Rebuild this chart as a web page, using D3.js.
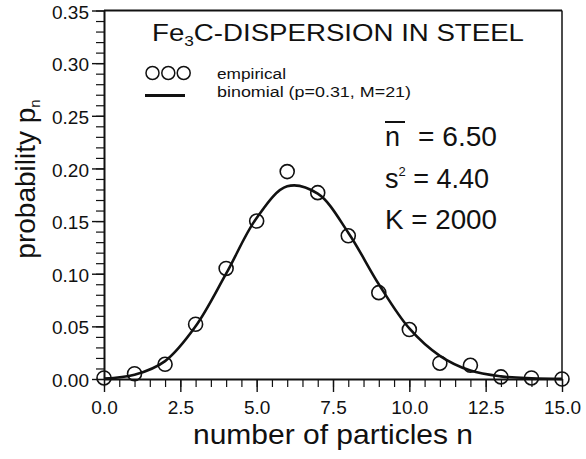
<!DOCTYPE html>
<html lang="en">
<head>
<meta charset="UTF-8">
<title>Fe3C dispersion</title>
<style>
  body { margin: 0; background: #fff; }
  svg { font-family: "Liberation Sans", Arial, sans-serif; }
  .axis path, .axis line { stroke: #111; }
  .axis text { fill: #111; }
</style>
</head>
<body>
<script src="https://d3js.org/d3.v7.min.js"></script>
<div id="chart"></div>
<script>
  // data
  var particles = [0, 1, 2, 3, 4, 5, 6, 7, 8, 9, 10, 11, 12, 13, 14, 15]
  var empirical = [0.001, 0.005, 0.014, 0.052, 0.105, 0.150, 0.197, 0.177, 0.136, 0.082, 0.047, 0.015, 0.013, 0.002, 0.001, 0.000]
  var binomialFit = [0.0004, 0.004, 0.017, 0.050, 0.100, 0.153, 0.183, 0.176, 0.139, 0.090, 0.048, 0.022, 0.008, 0.0025, 0.0007, 0.0001]
  var xTicks = [0, 2.5, 5, 7.5, 10, 12.5, 15]
  var yTicks = [0, 0.05, 0.10, 0.15, 0.20, 0.25, 0.30, 0.35]
  var xMinor = d3.range(0, 15.01, 0.5)
  var yMinor = d3.range(0, 0.3501, 0.01)

  var width = 586, height = 459
  var svg = d3.select("#chart").append("svg")
    .attr("width", width)
    .attr("height", height)

  var x = d3.scaleLinear().domain([0, 15]).range([104, 562])
  var y = d3.scaleLinear().domain([0, 0.35]).range([379, 10.5])

  // minor ticks first
  svg.append("g").attr("class", "axis")
    .attr("transform", "translate(0," + y(0) + ")")
    .call(d3.axisBottom(x).tickValues(xMinor).tickSize(8).tickSizeOuter(0).tickFormat(""))
    .call(g => g.select(".domain").remove())
    .selectAll("line").attr("stroke-width", 1.2)
  svg.append("g").attr("class", "axis")
    .attr("transform", "translate(" + x(0) + ",0)")
    .call(d3.axisLeft(y).tickValues(yMinor).tickSize(8).tickSizeOuter(0).tickFormat(""))
    .call(g => g.select(".domain").remove())
    .selectAll("line").attr("stroke-width", 1.2)

  var xAxis = svg.append("g").attr("class", "axis")
    .attr("transform", "translate(0," + y(0) + ")")
    .call(d3.axisBottom(x).tickValues(xTicks).tickSize(13).tickSizeOuter(0).tickPadding(9).tickFormat(d3.format(".1f")))
  xAxis.select(".domain").attr("stroke-width", 2)
  xAxis.selectAll("line").attr("stroke-width", 1.4)
  xAxis.selectAll("text").attr("font-size", 19).attr("font-family", "Liberation Sans")

  var yAxis = svg.append("g").attr("class", "axis")
    .attr("transform", "translate(" + x(0) + ",0)")
    .call(d3.axisLeft(y).tickValues(yTicks).tickSize(12).tickSizeOuter(0).tickPadding(3).tickFormat(d3.format(".2f")))
  yAxis.select(".domain").attr("stroke-width", 2)
  yAxis.selectAll("line").attr("stroke-width", 1.4)
  yAxis.selectAll("text").attr("font-size", 19).attr("font-family", "Liberation Sans").attr("dy", "0.4em")

  // frame top and right
  svg.append("line")
    .attr("x1", x(0)).attr("x2", x(15)).attr("y1", y(0.35)).attr("y2", y(0.35))
    .attr("stroke", "#111").attr("stroke-width", 2)
  svg.append("line")
    .attr("x1", x(15)).attr("x2", x(15)).attr("y1", y(0.35)).attr("y2", y(0))
    .attr("stroke", "#111").attr("stroke-width", 1.5)

  // fitted binomial curve
  var line = d3.line()
    .x(function(d, i) { return x(particles[i]) })
    .y(function(d) { return y(d) })
    .curve(d3.curveCatmullRom)
  svg.append("path")
    .datum(binomialFit)
    .attr("d", line)
    .attr("fill", "none")
    .attr("stroke", "#111")
    .attr("stroke-width", 2.6)

  // empirical points
  svg.selectAll(".pt")
    .data(empirical)
    .enter()
    .append("circle")
    .attr("class", "pt")
    .attr("cx", function(d, i) { return x(particles[i]) })
    .attr("cy", function(d) { return y(d) })
    .attr("r", 7)
    .attr("fill", "none")
    .attr("stroke", "#111")
    .attr("stroke-width", 1.6)

  // title
  var title = svg.append("text")
    .attr("x", 152).attr("y", 41)
    .attr("font-size", 24)
    .attr("fill", "#111")
    .attr("textLength", 372)
    .attr("lengthAdjust", "spacingAndGlyphs")
  title.append("tspan").text("Fe")
  title.append("tspan").attr("font-size", 15).attr("dy", 5).text("3")
  title.append("tspan").attr("dy", -5).text("C-DISPERSION IN STEEL")

  // legend
  ;[152.5, 168.3, 183.7].forEach(function(cx) {
    svg.append("circle")
      .attr("cx", cx).attr("cy", 73).attr("r", 6.5)
      .attr("fill", "none").attr("stroke", "#111").attr("stroke-width", 1.5)
  })
  svg.append("line")
    .attr("x1", 145).attr("x2", 185).attr("y1", 95.5).attr("y2", 95.5)
    .attr("stroke", "#111").attr("stroke-width", 3)
  svg.append("text").attr("x", 217).attr("y", 78.5)
    .attr("font-size", 15.5).attr("fill", "#111")
    .attr("textLength", 69).attr("lengthAdjust", "spacingAndGlyphs")
    .text("empirical")
  svg.append("text").attr("x", 217).attr("y", 96.5)
    .attr("font-size", 15.5).attr("fill", "#111")
    .attr("textLength", 194).attr("lengthAdjust", "spacingAndGlyphs")
    .text("binomial (p=0.31, M=21)")

  // statistics
  svg.append("text").attr("x", 385).attr("y", 145.5)
    .attr("font-size", 27).attr("fill", "#111").text("n")
  svg.append("line")
    .attr("x1", 385).attr("x2", 405).attr("y1", 122).attr("y2", 122)
    .attr("stroke", "#111").attr("stroke-width", 2)
  svg.append("text").attr("x", 418).attr("y", 145.5)
    .attr("font-size", 27).attr("fill", "#111")
    .attr("textLength", 79).attr("lengthAdjust", "spacingAndGlyphs")
    .text("= 6.50")

  var s2 = svg.append("text").attr("x", 385).attr("y", 187.5)
    .attr("font-size", 27).attr("fill", "#111")
  s2.append("tspan").text("s")
  s2.append("tspan").attr("font-size", 13).attr("dy", -12).text("2")
  s2.append("tspan").attr("dy", 12).text(" = 4.40")

  svg.append("text").attr("x", 385).attr("y", 229)
    .attr("font-size", 27).attr("fill", "#111")
    .attr("textLength", 112).attr("lengthAdjust", "spacingAndGlyphs")
    .text("K = 2000")

  // axis titles
  svg.append("text")
    .attr("x", (x(0) + x(15)) / 2).attr("y", 444)
    .attr("text-anchor", "middle")
    .attr("font-size", 28).attr("fill", "#111")
    .attr("textLength", 280).attr("lengthAdjust", "spacingAndGlyphs")
    .text("number of particles n")

  var yl = svg.append("text")
    .attr("transform", "translate(35,179) rotate(-90)")
    .attr("text-anchor", "middle")
    .attr("font-size", 28).attr("fill", "#111")
  yl.append("tspan").text("probability p")
  yl.append("tspan").attr("font-size", 15).attr("dy", 5).text("n")
</script>
</body>
</html>
